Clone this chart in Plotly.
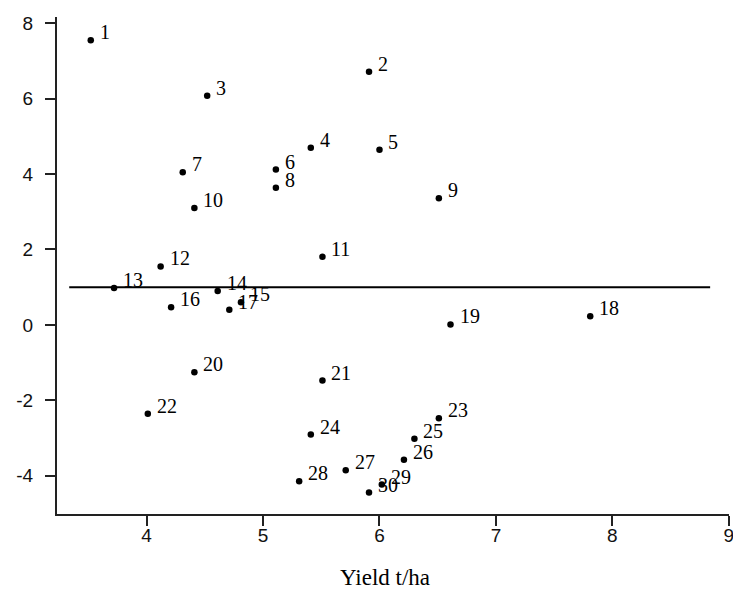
import plotly.graph_objects as go

# Data
ids = [str(i) for i in range(1, 31)]
yield_t_ha = [3.52, 5.91, 4.52, 5.41, 6.00, 5.11, 4.31, 5.11, 6.51, 4.41,
              5.51, 4.12, 3.72, 4.61, 4.81, 4.21, 4.71, 7.81, 6.61, 4.41,
              5.51, 4.01, 6.51, 5.41, 6.30, 6.21, 5.71, 5.31, 6.02, 5.91]
score = [7.55, 6.72, 6.08, 4.70, 4.65, 4.12, 4.05, 3.64, 3.36, 3.10,
         1.81, 1.55, 0.98, 0.90, 0.60, 0.47, 0.40, 0.23, 0.01, -1.26,
         -1.48, -2.36, -2.48, -2.91, -3.02, -3.58, -3.86, -4.15, -4.24, -4.45]

ref_line_x = [3.335, 8.84]
ref_line_y = [1.0, 1.0]

x_ticks = [4, 5, 6, 7, 8, 9]
y_ticks = [-4, -2, 0, 2, 4, 6, 8]
y_tick_text = ["-4", "-2", "0", "2", "4", "6", "8"]

SERIF = "Liberation Serif, Times New Roman, serif"
SANS = "Liberation Sans, Arial, sans-serif"

fig = go.Figure()
fig.add_trace(go.Scatter(x=ref_line_x, y=ref_line_y, mode="lines",
                         line=dict(color="black", width=2), hoverinfo="skip",
                         showlegend=False))
fig.add_trace(go.Scatter(x=yield_t_ha, y=score, mode="markers",
                         marker=dict(color="black", size=6.5, symbol="circle"),
                         showlegend=False))

for xi, yi, t in zip(yield_t_ha, score, ids):
    fig.add_annotation(x=xi, y=yi, text=t, showarrow=False,
                       xanchor="left", yanchor="middle", xshift=7, yshift=8,
                       font=dict(family=SERIF, size=20, color="black"))

fig.add_annotation(x=0.5, y=0, xref="paper", yref="paper", text="Yield t/ha",
                   showarrow=False, xanchor="center", yanchor="middle",
                   yshift=-63, xshift=-8,
                   font=dict(family=SERIF, size=23, color="black"))

axis_common = dict(showgrid=False, zeroline=False, showline=True,
                   linecolor="#222", linewidth=2, ticks="outside",
                   ticklen=10, tickwidth=1.5, tickcolor="#222", automargin=False,
                   ticklabeloverflow="allow",
                   tickfont=dict(family=SANS, size=19, color="#111"))

fig.update_xaxes(range=[3.23, 9.002], tickvals=x_ticks, ticklabelstandoff=-7,
                 **axis_common)
fig.update_yaxes(range=[-5.02, 8.17], tickvals=y_ticks, ticktext=y_tick_text,
                 ticklabelstandoff=8, **axis_common)

fig.update_layout(width=733, height=589, plot_bgcolor="white", paper_bgcolor="white",
                  margin=dict(l=57, r=4, t=17, b=75))

fig.write_html("out.html", config={"displayModeBar": False},
               post_script="document.body.style.margin='0';document.body.style.padding='0';")
